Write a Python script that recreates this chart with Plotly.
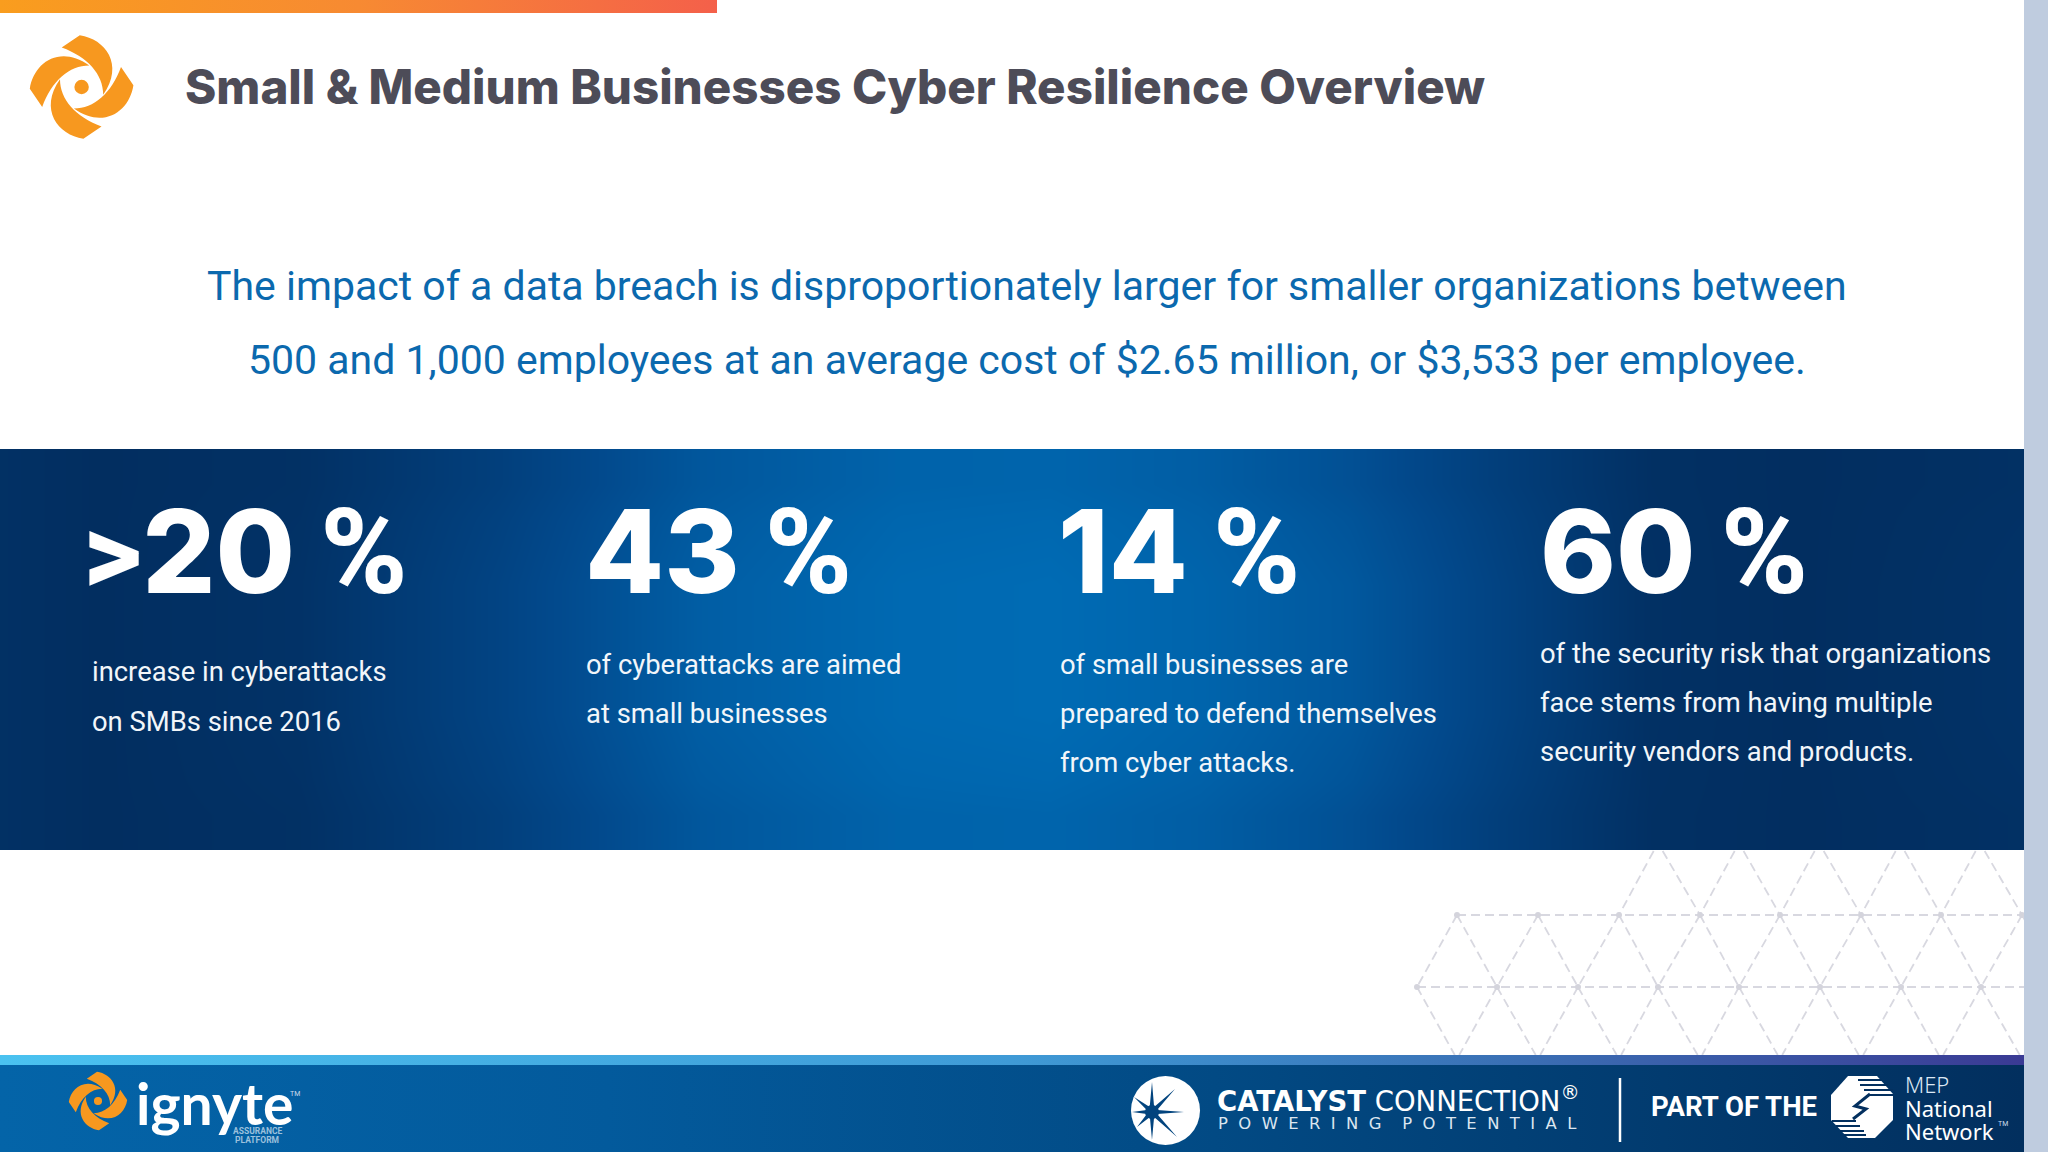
import math
import plotly.graph_objects as go

title = "Small & Medium Businesses Cyber Resilience Overview"
subtitle_lines = [
    "The impact of a data breach is disproportionately larger for smaller organizations between",
    "500 and 1,000 employees at an average cost of $2.65 million, or $3,533 per employee.",
]
stat_labels = [">20", "43", "14", "60"]
stat_lines = [
    ["increase in cyberattacks", "on SMBs since 2016"],
    ["of cyberattacks are aimed", "at small businesses"],
    ["of small businesses are", "prepared to defend themselves", "from cyber attacks."],
    ["of the security risk that organizations", "face stems from having multiple", "security vendors and products."],
]

# layout, in pixels
stat_x = [82, 584, 1057, 1539]
line_x = [91, 585, 1059, 1539]
line_y = [[672, 722], [665, 714], [665, 714, 763], [654, 703, 752]]

# band shading, rows top to bottom
band_x = [0, 100, 300, 500, 700, 900, 1050, 1200, 1350, 1500, 1650, 1800, 2024]
band_y = [449, 520, 650, 780, 850]
band_z = [
    [0.05, 0.00, 0.05, 0.32, 0.70, 0.88, 0.90, 0.80, 0.60, 0.30, 0.04, 0.00, 0.05],
    [0.05, 0.00, 0.08, 0.40, 0.80, 0.97, 1.00, 0.90, 0.72, 0.38, 0.05, 0.00, 0.08],
    [0.05, 0.00, 0.08, 0.40, 0.80, 0.97, 1.00, 0.90, 0.72, 0.38, 0.05, 0.00, 0.08],
    [0.05, 0.00, 0.05, 0.32, 0.70, 0.88, 0.90, 0.80, 0.60, 0.30, 0.04, 0.00, 0.05],
]

# triangle lattice rows
lattice_843 = [1658, 1739, 1819, 1900, 1980]
lattice_915 = [1457, 1538, 1619, 1700, 1780, 1861, 1941, 2022]
lattice_987 = [1417, 1497, 1578, 1658, 1739, 1820, 1901, 1981, 2062]
lattice_1059 = [1457, 1538, 1619, 1700, 1780, 1861, 1941, 2022]

# swirl blade relative to logo centre
blade = [(-1.7, -50.3), (23, -46.7), (41.7, -21.7), (21, 7.5), (21, -12), (6, -29), (-19.3, -38.3)]

ray_tips = [(0, -30), (23, -23), (32, 0), (25, 25), (0, 28), (-15, 15), (-20, 0), (-18, -15)]

ORANGE = "#F7981F"
NAVY = "#02447E"


def rect_gradient(x0, x1, y0, y1, stops):
    return go.Scatter(
        x=[x0, x1, x1, x0, x0], y=[y0, y0, y1, y1, y0], mode="lines", fill="toself",
        line=dict(width=0), showlegend=False, hoverinfo="skip",
        fillgradient=dict(type="horizontal", colorscale=stops),
    )


def swirl(cx, cy, scale, color):
    path = ""
    for turn in range(4):
        pts = []
        for px, py in blade:
            for _ in range(turn):
                px, py = -py, px
            pts.append((cx + px * scale, cy + py * scale))
        p = ["{:.1f},{:.1f}".format(*q) for q in pts]
        path += "M{} C{} {} {} C{} {} {} Z ".format(p[0], p[1], p[2], p[3], p[4], p[5], p[6])
    r = 7 * scale
    shapes = [
        dict(type="path", path=path, fillcolor=color, line_width=0),
        dict(type="circle", x0=cx - r, x1=cx + r, y0=cy - r, y1=cy + r, fillcolor=color, line_width=0),
    ]
    return shapes


def star_path(cx, cy):
    pts = []
    n = len(ray_tips)
    for i, (tx, ty) in enumerate(ray_tips):
        pts.append((cx + tx, cy + ty))
        nx, ny = ray_tips[(i + 1) % n]
        a = math.atan2(ty, tx) + 0.5 * ((math.atan2(ny, nx) - math.atan2(ty, tx)) % (2 * math.pi))
        pts.append((cx + 5.5 * math.cos(a), cy + 5.5 * math.sin(a)))
    return "M" + " L".join("{:.1f},{:.1f}".format(*q) for q in pts) + " Z"


def lattice_segments():
    xs, ys = [], []

    def seg(x0, y0, x1, y1):
        # stop at the band above and the footer below
        if y0 < 851:
            t = (851 - y0) / (y1 - y0)
            x0, y0 = x0 + (x1 - x0) * t, 851
        if y1 > 1055:
            t = (1055 - y0) / (y1 - y0)
            x1, y1 = x0 + (x1 - x0) * t, 1055
        xs.extend([x0, x1, None])
        ys.extend([y0, y1, None])

    for upper, uy, lower, ly in [
        (lattice_843, 843, lattice_915, 915),
        (lattice_915, 915, lattice_987, 987),
        (lattice_987, 987, lattice_1059, 1059),
    ]:
        for ux in upper:
            for lx in lower:
                if abs(ux - lx) < 60:
                    seg(ux, uy, lx, ly)
    seg_rows = [(lattice_915, 915), (lattice_987, 987)]
    for row, y in seg_rows:
        xs.extend([row[0], min(row[-1], 2024), None])
        ys.extend([y, y, None])
    return xs, ys


fig = go.Figure()

lat_x, lat_y = lattice_segments()
fig.add_trace(go.Scatter(
    x=lat_x, y=lat_y, mode="lines", line=dict(color="#D8D8E0", width=1.8, dash="9px,5px"),
    showlegend=False, hoverinfo="skip",
))
fig.add_trace(go.Scatter(
    x=lattice_915 + lattice_987[:-1], y=[915] * len(lattice_915) + [987] * (len(lattice_987) - 1),
    mode="markers", marker=dict(color="#D4D4DC", size=6), showlegend=False, hoverinfo="skip",
))

fig.add_trace(go.Heatmap(
    x=band_x, y=band_y, z=band_z, zmin=0, zmax=1, zsmooth="best", showscale=False, hoverinfo="skip",
    colorscale=[[0, "#022E60"], [0.5, "#02498C"], [1, "#006BB4"]],
))

fig.add_trace(rect_gradient(0, 717, 0, 13, [[0, "#F99D1E"], [0.5, "#F78A32"], [1, "#F4604A"]]))
fig.add_trace(rect_gradient(0, 2024, 1055, 1065, [[0, "#4AC2F0"], [0.5, "#3F9AD6"], [0.75, "#3A6FB4"], [1, "#3A3A94"]]))
fig.add_trace(rect_gradient(0, 2024, 1065, 1152, [[0, "#0464A8"], [0.3, "#035A9C"], [0.6, "#024A84"], [1, "#022F5E"]]))

shapes = [dict(type="rect", x0=2024, x1=2048, y0=0, y1=1152, fillcolor="#BFCCDF", line_width=0)]
shapes += swirl(81.6, 87, 1.03, ORANGE)
shapes += swirl(98, 1101, 0.58, ORANGE)

# catalyst badge
shapes.append(dict(type="circle", x0=1131, x1=1200, y0=1076, y1=1145, fillcolor="white", line_width=0))
shapes.append(dict(type="path", path=star_path(1152, 1112), fillcolor=NAVY, line_width=0))
shapes.append(dict(type="circle", x0=1145, x1=1159, y0=1105, y1=1119, fillcolor=NAVY, line_width=0))

# divider
shapes.append(dict(type="line", x0=1620, x1=1620, y0=1078, y1=1142, line=dict(color="white", width=2.5)))

# MEP octagon, stripes and bolt
shapes.append(dict(
    type="path",
    path="M1848,1076 L1877,1076 L1893,1094 L1893,1120 L1875,1138 L1848,1138 L1831,1120 L1831,1095 Z",
    fillcolor="white", line_width=0,
))
for x0, x1, y in [(1858, 1882, 1080), (1860, 1888, 1085), (1864, 1893, 1090), (1868, 1894, 1095),
                  (1832, 1856, 1121), (1836, 1860, 1126), (1840, 1864, 1131), (1844, 1866, 1135)]:
    shapes.append(dict(type="line", x0=x0, x1=x1, y0=y, y1=y, line=dict(color="#03305F", width=2)))
shapes.append(dict(
    type="path", path="M1870,1094 L1855,1106 L1866,1109 L1853,1119",
    line=dict(color="#03305F", width=3),
))

for s in shapes:
    s.setdefault("xref", "x")
    s.setdefault("yref", "y")
    s.setdefault("layer", "above")


def label(x, y, text, size, color="white", family="Roboto", weight=None, anchor="left"):
    font = dict(family=family, size=size, color=color)
    if weight:
        font["weight"] = weight
    fig.add_annotation(
        x=x, y=y, xref="x", yref="y", text=text, showarrow=False,
        xanchor=anchor, yanchor="middle", font=font, borderpad=0,
    )


label(184, 86, title, 47.5, color="#4D4C58", family="Inter", weight=800)
label(1027, 286, subtitle_lines[0], 41, color="#0B69AE", anchor="center")
label(1027, 360, subtitle_lines[1], 41, color="#0B69AE", anchor="center")

for i, stat in enumerate(stat_labels):
    digits = stat.replace(">", "<span style='font-family:Roboto'>&gt;</span>")
    text = digits + " <span style='font-family:Roboto;font-size:118px'>%</span>"
    label(stat_x[i], 552, text, 115, family="Inter", weight=800)
    for line, y in zip(stat_lines[i], line_y[i]):
        label(line_x[i], y, line, 27.4, color="#F2F6FA")

label(135, 1103, "ignyte", 57, family="Lato", weight=700)
label(289, 1094, "TM", 7, color="#C9DCEC")
label(257, 1131, "ASSURANCE", 8.5, color="#9CC0DD", anchor="center", weight=700)
label(257, 1140, "PLATFORM", 8.5, color="#9CC0DD", anchor="center", weight=700)

label(1216, 1099, "<b>CATALYST</b> CONNECTION<sup>®</sup>", 27.5, family="DejaVu Sans")
label(1217, 1123, "P  O  W  E  R  I  N  G    P  O  T  E  N  T  I  A  L", 16.4, color="#DCE6F0", family="DejaVu Sans")

label(1650, 1106, "PART OF THE", 27.5, weight=700)
label(1904, 1084, "MEP", 22, family="Noto Sans", weight=300, color="#DCE8F4")
label(1904, 1108, "National", 22, family="Noto Sans")
label(1904, 1131, "Network", 22, family="Noto Sans")
label(1997, 1124, "TM", 7, color="#C9DCEC")

fig.update_layout(
    width=2048, height=1152, margin=dict(l=0, r=0, t=0, b=0, pad=0),
    paper_bgcolor="white", plot_bgcolor="white", showlegend=False, shapes=shapes,
    xaxis=dict(range=[0, 2048], visible=False, fixedrange=True),
    yaxis=dict(range=[1152, 0], visible=False, fixedrange=True),
)

fig.write_html("out.html", post_script="document.body.style.margin='0';", config=dict(displayModeBar=False))
